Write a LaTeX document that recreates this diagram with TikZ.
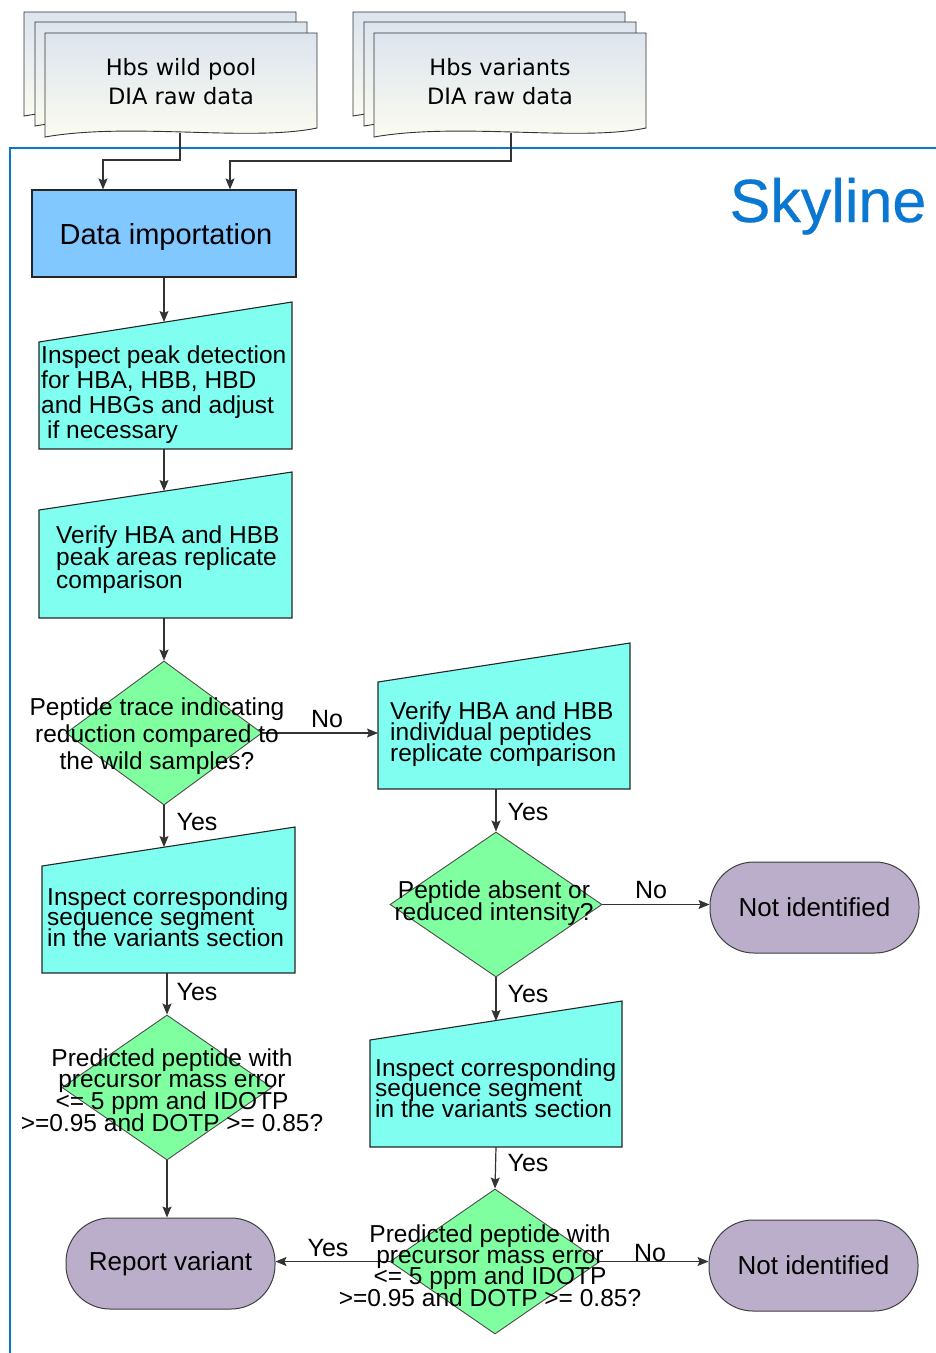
\documentclass[tikz,border=0pt]{standalone}
\usepackage{fontspec}
\setmainfont{Liberation Sans}
\newfontfamily\docfont{DejaVu Sans}
\newfontfamily\skyfont[FakeBold=0.4]{Liberation Sans}
\usetikzlibrary{shapes.geometric,arrows.meta,calc}
\definecolor{skyblue}{HTML}{0A78D2}
\definecolor{cyanbox}{HTML}{80FFF0}
\definecolor{greenbox}{HTML}{80FFA0}
\definecolor{impbox}{HTML}{80C8FF}
\definecolor{termbox}{HTML}{BBAECB}
\definecolor{linecol}{HTML}{333333}
\definecolor{doctop}{HTML}{DCE4EE}
\definecolor{docbot}{HTML}{FCFCF0}
\tikzset{
  docsheet/.pic={\path[draw=black!80, line width=0.9pt, top color=doctop, bottom color=docbot]
     (0,0) -- (272,0) -- (272,95) .. controls (205,109) and (85,89) .. (0,104) -- cycle;},
  arr/.style={draw=linecol, line width=1.2pt, -{Stealth[length=11pt,width=9pt,inset=2pt]}},
  boxline/.style={draw=black!85, line width=1.1pt},
  boxtext/.style={align=left, inner sep=0pt, font=\fontsize{24.5}{#1}\selectfont},
  doctext/.style={align=center, inner sep=0pt, font=\docfont\fontsize{22.5}{29}\selectfont},
  dia/.style={diamond, draw=black!70, line width=0.9pt, fill=greenbox, inner sep=0pt},
  diatext/.style={align=center, inner sep=0pt, font=\fontsize{24.5}{#1}\selectfont},
  term/.style={draw=black!75, line width=1pt, fill=termbox, rounded corners=44pt,
     minimum width=209pt, minimum height=91pt, inner sep=0pt, font=\fontsize{26}{30}\selectfont},
  lbl/.style={inner sep=0pt, font=\fontsize{25}{30}\selectfont},
}
\begin{document}
\lineskiplimit=-50pt
\lineskip=0pt
\begin{tikzpicture}[x=1pt,y=-1pt]
\useasboundingbox (0,0) rectangle (936,1353);
\fill[white] (0,0) rectangle (936,1353);

% raw data documents
\pic at (24,12) {docsheet};
\pic at (35,22) {docsheet};
\pic at (45,33) {docsheet};
\pic at (353,12) {docsheet};
\pic at (364,22) {docsheet};
\pic at (374,33) {docsheet};
\node[doctext] (wild) at (181,82) {Hbs wild pool\\DIA raw data};
\node[doctext] (var) at (500,82) {Hbs variants\\DIA raw data};
\coordinate (wildout) at (180,133);
\coordinate (varout) at (511,133);

% Skyline frame
\draw[skyblue, line width=2.7pt] (936,148) -- (10,148) -- (10,1353);
\node[anchor=base, inner sep=0pt, text=skyblue, font=\skyfont\fontsize{61}{66}\selectfont] (sky) at (828,222) {Skyline};

% data importation
\node[boxline, fill=impbox, minimum width=264pt, minimum height=87pt, inner sep=0pt] (imp) at (164,233.5) {};
\node[anchor=base, inner sep=0pt, font=\fontsize{29}{34}\selectfont] (impt) at (166,244) {Data importation};
\draw[arr] (wildout) -- ++(0,27) -| ([xshift=-61pt]imp.north);
\draw[arr] (varout) -- ++(0,28) -| ([xshift=66pt]imp.north);

% box 2
\filldraw[boxline, fill=cyanbox] (39,342) -- (292,302) -- (292,449) -- (39,449) -- cycle;
\node[boxtext=25, anchor=west] (t2) at (41,395) {Inspect peak detection\\for HBA, HBB, HBD\\and HBGs and adjust\\\hspace{6pt}if necessary};
\coordinate (b2in) at (164,322);
\coordinate (b2out) at (164,449);
\draw[arr] (imp.south) -- (b2in);

% box 3
\filldraw[boxline, fill=cyanbox] (39,510) -- (292,472) -- (292,618) -- (39,618) -- cycle;
\node[boxtext=22.5, anchor=west] (t3) at (56,559.5) {Verify HBA and HBB\\peak areas replicate\\comparison};
\coordinate (b3in) at (164,491);
\coordinate (b3out) at (164,618);
\draw[arr] (b2out) -- (b3in);

% diamond 1
\node[dia, minimum width=196pt, minimum height=144pt] (d1) at (164,733) {};
\draw[arr] (b3out) -- (d1.north);

% box 4
\filldraw[boxline, fill=cyanbox] (378,682) -- (630,643) -- (630,789) -- (378,789) -- cycle;
\node[boxtext=21, anchor=west] (t4) at (390,734) {Verify HBA and HBB\\individual peptides\\replicate comparison};
\coordinate (b4in) at (378,733);
\coordinate (b4out) at (496,789);
\draw[arr] (d1.east) -- (b4in);
\node[lbl] (no1) at (327,719) {No};

% box 5
\filldraw[boxline, fill=cyanbox] (42,866) -- (295,827) -- (295,973) -- (42,973) -- cycle;
\node[boxtext=20.5, anchor=west] (t5) at (47,917) {Inspect corresponding\\sequence segment\\in the variants section};
\coordinate (b5in) at (164,847);
\coordinate (b5out) at (167,973);
\draw[arr] (d1.south) -- (b5in);
\node[lbl] (yes1) at (197,822) {Yes};

% diamond 2
\node[dia, minimum width=212pt, minimum height=145pt] (d2) at (496,904.5) {};
\draw[arr] (b4out) -- (d2.north);
\node[lbl] (yes2) at (528,812) {Yes};
\node[term] (ni1) at (814.5,907.5) {Not identified};
\draw[arr] (d2.east) -- (d2.east -| ni1.west);
\node[lbl] (no2) at (651,890) {No};

% box 6
\filldraw[boxline, fill=cyanbox] (370,1040) -- (622,1001) -- (622,1147) -- (370,1147) -- cycle;
\node[boxtext=20.5, anchor=west] (t6) at (375,1088) {Inspect corresponding\\sequence segment\\in the variants section};
\coordinate (b6in) at (496,1021);
\coordinate (b6out) at (496,1147);
\draw[arr] (d2.south) -- (b6in);
\node[lbl] (yes3) at (528,994) {Yes};

% diamond 3
\node[dia, minimum width=210pt, minimum height=145pt] (d3) at (167,1087.5) {};
\draw[arr] (b5out) -- (d3.north);
\node[lbl] (yes4) at (197,992) {Yes};
\node[term] (rv) at (170.5,1263.5) {Report variant};
\draw[arr] (d3.south) -- (d3.south |- rv.north);

% diamond 4
\node[dia, minimum width=210pt, minimum height=145pt] (d4) at (495,1261.5) {};
\draw[arr] (b6out) -- (d4.north);
\node[lbl] (yes5) at (528,1163) {Yes};
\draw[arr] (d4.west) -- (d4.west -| rv.east);
\node[lbl] (yes6) at (328,1248) {Yes};
\node[term] (ni2) at (813.5,1265.5) {Not identified};
\draw[arr] (d4.east) -- (d4.east -| ni2.west);
\node[lbl] (no3) at (650,1253) {No};

% diamond texts
\node[diatext=27] (q1) at (157,736) {Peptide trace indicating\\reduction compared to\\the wild samples?};
\node[diatext=22] (q2) at (494,903) {Peptide absent or\\reduced intensity?};
\node[diatext=21.7] (q3) at (172,1090) {Predicted peptide with\\precursor mass error\\<= 5 ppm and IDOTP\\>=0.95 and DOTP >= 0.85?};
\node[diatext=21.3] (q4) at (490,1265.5) {Predicted peptide with\\precursor mass error\\<= 5 ppm and IDOTP\\>=0.95 and DOTP >= 0.85?};
\end{tikzpicture}
\end{document}
